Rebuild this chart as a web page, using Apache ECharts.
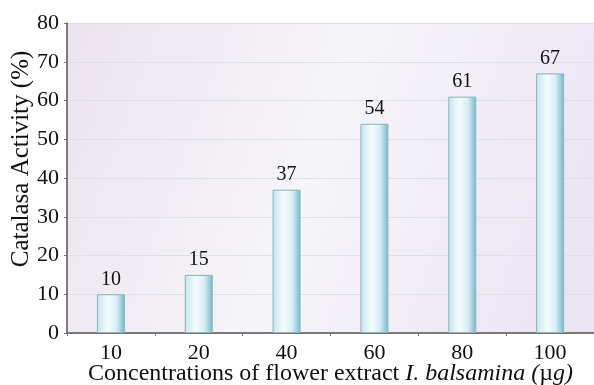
<!DOCTYPE html>
<html>
<head>
<meta charset="utf-8">
<script src="https://cdn.jsdelivr.net/npm/echarts@6/dist/echarts.min.js"></script>
<style>
  html, body { margin: 0; padding: 0; background: #fff; }
  #main { width: 594px; height: 385px; }
</style>
</head>
<body>
<div id="main"></div>
<script>
var categories = ['10', '20', '40', '60', '80', '100'];
var activity = [10, 15, 37, 54, 61, 67];
var yTicks = [0, 10, 20, 30, 40, 50, 60, 70, 80];

var chart = echarts.init(document.getElementById('main'));

var barFill = new echarts.graphic.LinearGradient(0, 0, 1, 0, [
	{offset: 0, color: '#c4e6ef'},
	{offset: 0.4, color: '#f5fcfd'},
	{offset: 0.7, color: '#d6eef5'},
	{offset: 1, color: '#74b7cb'}
]);

var option = {
	animation: false,
	textStyle: {fontFamily: 'Liberation Serif'},
	grid: {
		left: 67,
		right: 0,
		top: 23,
		bottom: 52,
		outerBoundsMode: 'none',
		show: true,
		borderWidth: 0,
		backgroundColor: new echarts.graphic.LinearGradient(0, 0, 1, 0.6, [
			{offset: 0, color: '#ebe3ee'},
			{offset: 0.5, color: '#f6f5f9'},
			{offset: 1, color: '#ebe5f2'}
		])
	},
	xAxis: {
		type: 'category',
		data: categories,
		name: '{a|Concentrations of flower extract }{b|I. balsamina (}{a|µ}{b|g)}',
		nameLocation: 'middle',
		nameGap: 29,
		nameMoveOverlap: false,
		nameTextStyle: {
			rich: {
				a: {fontFamily: 'Liberation Serif', fontSize: 24, color: '#111'},
				b: {fontFamily: 'Liberation Serif', fontSize: 24, fontStyle: 'italic', color: '#111'}
			}
		},
		axisLine: {lineStyle: {color: '#555', width: 1.5}},
		axisTick: {show: true, length: 3, lineStyle: {color: '#777'}},
		axisLabel: {fontSize: 22, color: '#111', margin: 9, fontFamily: 'Liberation Serif'},
		splitLine: {show: false}
	},
	yAxis: {
		type: 'value',
		min: yTicks[0],
		max: yTicks[yTicks.length - 1],
		interval: 10,
		name: 'Catalasa Activity (%)',
		nameLocation: 'middle',
		nameGap: 33,
		nameMoveOverlap: false,
		nameTextStyle: {fontSize: 25, color: '#111', fontFamily: 'Liberation Serif', padding: [0, 0, 0, 38]},
		axisLine: {show: true, lineStyle: {color: '#555', width: 1.5}},
		axisTick: {show: true, length: 3, lineStyle: {color: '#777'}},
		axisLabel: {fontSize: 22, color: '#111', margin: 8, fontFamily: 'Liberation Serif'},
		splitLine: {show: true, lineStyle: {color: '#dfdfe5', width: 1}}
	},
	series: [{
		type: 'bar',
		data: activity,
		barWidth: 28,
		itemStyle: {
			color: barFill,
			borderColor: '#8fb0ba',
			borderWidth: 1
		},
		label: {
			show: true,
			position: 'top',
			distance: 5,
			fontSize: 20,
			color: '#111',
			fontFamily: 'Liberation Serif'
		}
	}]
};

chart.setOption(option);
</script>
</body>
</html>
